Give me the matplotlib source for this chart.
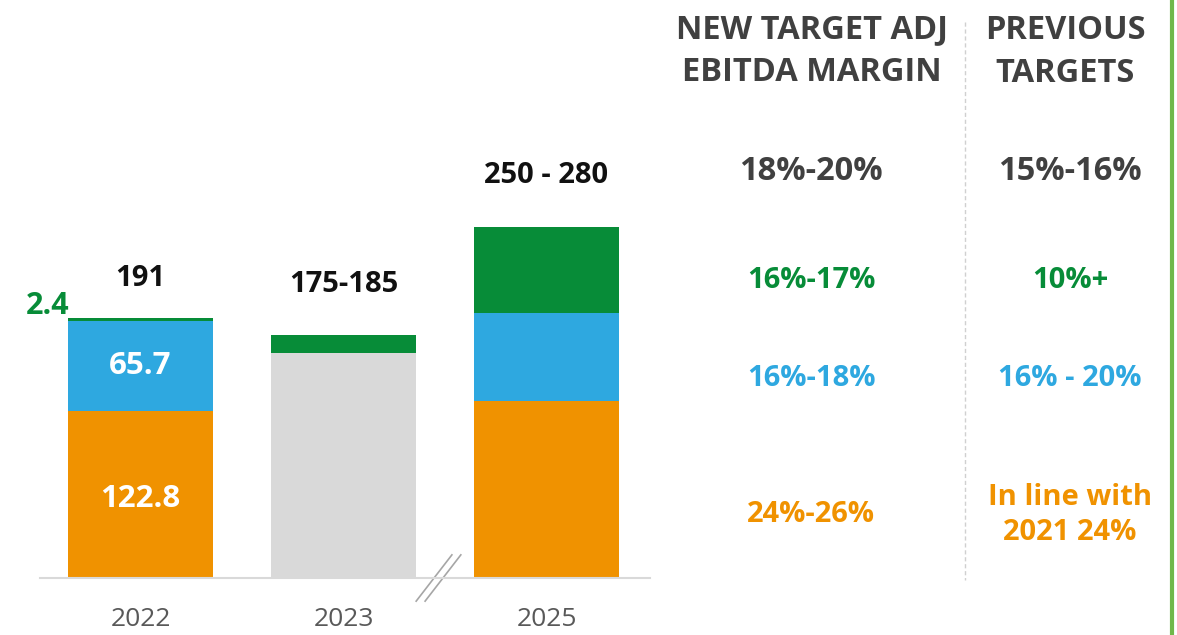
import matplotlib.pyplot as plt
import numpy as np

# data
years = ["2022", "2023", "2025"]
orange_vals = [122.8, 0, 130]
blue_vals = [65.7, 0, 64.7]
grey_vals = [0, 165.3, 0]
green_vals = [2.4, 13.2, 63.2]
total_labels = ["191", "175-185", "250 - 280"]

new_targets = ["18%-20%", "16%-17%", "16%-18%", "24%-26%"]
prev_targets = ["15%-16%", "10%+", "16% - 20%", "In line with\n2021 24%"]

ORANGE = "#f09200"
BLUE = "#2ea8e0"
GREEN = "#078c38"
GREY = "#d9d9d9"
DARK = "#404040"

W, H = 1177, 635
plt.rcParams['font.family'] = ['Open Sans', 'DejaVu Sans']

fig = plt.figure(figsize=(W / 100, H / 100), dpi=100)
fig.patch.set_facecolor("white")

# axes placed in pixel terms: x 40..650, baseline at y=578
ax = fig.add_axes([40 / W, (H - 578) / H, 610 / W, 578 / H])
px_per_unit = 260 / 191.0
ax.set_ylim(0, 578 / px_per_unit)
ax.set_xlim(-100.5 / 203, (650 - 140.5) / 203)

x = np.arange(len(years))
width = 145 / 203
bottom = np.zeros(len(years))
for vals, col in [(orange_vals, ORANGE), (blue_vals, BLUE), (grey_vals, GREY), (green_vals, GREEN)]:
    ax.bar(x, vals, width, bottom=bottom, color=col, linewidth=0)
    bottom += np.array(vals)

for s in ["top", "right", "left"]:
    ax.spines[s].set_visible(False)
ax.spines["bottom"].set_color(GREY)
ax.spines["bottom"].set_linewidth(1.5)
ax.set_yticks([])
ax.set_xticks(x)
ax.set_xticklabels(years, fontsize=19, color="#595959")
ax.tick_params(axis="x", length=0, pad=21)

# totals above bars
offsets = [29, 37, 38]
for i, lab in enumerate(total_labels):
    ax.text(x[i], bottom[i] + offsets[i], lab, ha="center", va="center",
            fontsize=21, fontweight="bold", color="#111111")

# inside labels for 2022
ax.text(x[0], orange_vals[0] / 2 - 3, "122.8", ha="center", va="center",
        fontsize=22.5, fontweight="bold", color="white")
ax.text(x[0], orange_vals[0] + blue_vals[0] / 2, "65.7", ha="center", va="center",
        fontsize=22.5, fontweight="bold", color="white")
ax.text(x[0] - width / 2 + 0.005, bottom[0] + 9, "2.4", ha="right", va="center",
        fontsize=22, fontweight="bold", color=GREEN)

# axis break marks between 2023 and 2025
cx = 1.468
dx, dy = 0.088, 17
for sh in [-0.022, 0.022]:
    ax.plot([cx + sh - dx, cx + sh + dx], [-dy, dy], color="#a6a6a6",
            lw=1.2, clip_on=False)

# right-hand table
def fx(px):
    return px / W

def fy(py):
    return 1 - py / H

fig.text(fx(812), fy(51), "NEW TARGET ADJ\nEBITDA MARGIN", ha="center", va="center",
         fontsize=23.5, fontweight="bold", color=DARK, linespacing=1.4)
fig.text(fx(1065), fy(52), "PREVIOUS\nTARGETS", ha="center", va="center",
         fontsize=23.5, fontweight="bold", color=DARK, linespacing=1.4)

row_y = [171, 280, 379, 515]
row_cols = [DARK, GREEN, BLUE, ORANGE]
for ry, t1, t2, c in zip(row_y, new_targets, prev_targets, row_cols):
    size = 23.5 if c == DARK else 21
    fig.text(fx(811), fy(ry), t1, ha="center", va="center", fontsize=size,
             fontweight="bold", color=c)
    fig.text(fx(1070), fy(ry), t2, ha="center", va="center", fontsize=size,
             fontweight="bold", color=c, linespacing=1.3)

fig.add_artist(plt.Line2D([fx(965), fx(965)], [fy(22), fy(580)], color="#d0d0d0",
                          lw=1, linestyle=(0, (3, 2))))
fig.add_artist(plt.Line2D([fx(1172), fx(1172)], [0, 1], color="#70b84a", lw=3))

fig.savefig("out.png", dpi=100, facecolor="white")
